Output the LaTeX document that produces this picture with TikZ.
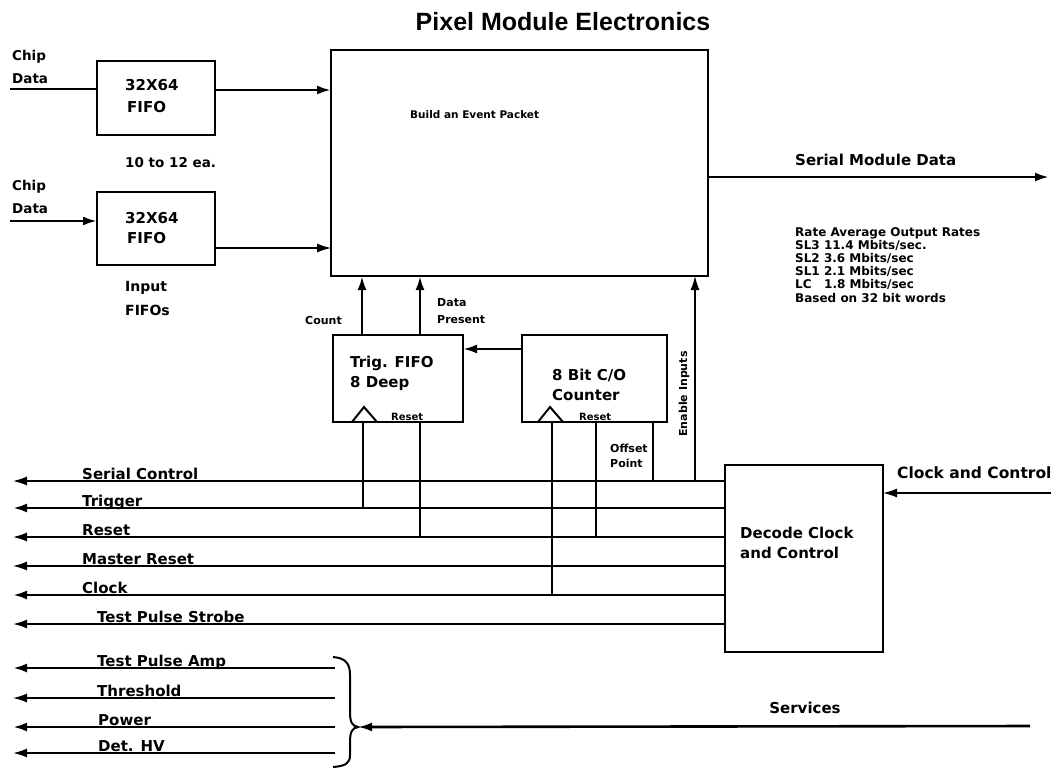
\documentclass[tikz,border=0pt]{standalone}
\usepackage{fontspec}
\setmainfont{DejaVu Sans}
\newfontfamily\titlefont{Liberation Sans}
\usetikzlibrary{arrows.meta}
\newcommand{\fsz}[1]{\fontsize{#1}{#1}\selectfont}
\begin{document}
\begin{tikzpicture}[x=1pt,y=-1pt,
  box/.style={draw, line width=2pt, inner sep=0pt, outer sep=0pt},
  txt/.style={inner sep=0pt, anchor=west, font=\bfseries\fsz{#1}},
  txt/.default=15,
  lab/.style={inner sep=0pt, anchor=base west, font=\bfseries\fsz{15}},
  thk/.style={line width=2.6pt},
  med/.style={line width=1.9pt},
  thn/.style={line width=1.4pt},
  arr/.style={-{Latex[length=14pt,width=9pt]}}
]
\useasboundingbox (0,0) rectangle (1051,769);

% title
\node[inner sep=0pt, font=\titlefont\bfseries\fsz{25}] (title) at (563,22) {Pixel Module Electronics};

% main box
\node[box, minimum width=377pt, minimum height=226pt] (main) at (519.5,163) {};
\node[txt=10.5] (mainT) at (410,115) {Build an Event Packet};

% FIFO 1
\node[box, minimum width=118pt, minimum height=74pt] (fifo1) at (156,98) {};
\node[txt] (f1a) at (125,85) {32X64};
\node[txt] (f1b) at (127,107) {FIFO};
\node[txt=13.5] (cd1a) at (12,57) {Chip};
\node[txt=13.5] (cd1b) at (12,79) {Data};
\coordinate (cd1) at (10,89);
\draw[thk] (cd1) -- (cd1 -| fifo1.west);
\coordinate (f1o) at (0,90);
\draw[thk,arr] (f1o -| fifo1.east) -- (f1o -| main.west);
\node[txt=13.5] (ea) at (125,163) {10 to 12 ea.};

% FIFO 2
\node[box, minimum width=118pt, minimum height=73pt] (fifo2) at (156,228.5) {};
\node[txt] (f2a) at (125,218) {32X64};
\node[txt] (f2b) at (127,238) {FIFO};
\node[txt=13.5] (cd2a) at (12,187) {Chip};
\node[txt=13.5] (cd2b) at (12,209) {Data};
\coordinate (cd2) at (10,221);
\draw[thk,arr] (cd2) -- (cd2 -| fifo2.west);
\coordinate (f2o) at (0,248);
\draw[thn,arr] (f2o -| fifo2.east) -- (f2o -| main.west);
\node[txt=14] (inA) at (125,288) {Input};
\node[txt=14] (inB) at (125,310) {FIFOs};

% Trig FIFO
\node[box, minimum width=130pt, minimum height=87pt] (trig) at (398,378.5) {};
\node[txt] (tA) at (350,363) {Trig. FIFO};
\node[txt] (tB) at (350,383) {8 Deep};
\draw[line width=2pt] (352,422) -- (364,407) -- (377,422);
\node[txt=10, anchor=base west] (trst) at (391,420) {Reset};

% Counter
\node[box, minimum width=145pt, minimum height=87pt] (ctr) at (594.5,378.5) {};
\node[txt] (cA) at (552,375) {8 Bit C/O};
\node[txt] (cB) at (552,395) {Counter};
\draw[line width=2pt] (538,422) -- (550,407) -- (563,422);
\node[txt=10, anchor=base west] (crst) at (579,420) {Reset};

% Count / Data Present
\coordinate (cnt) at (362,0);
\draw[thk,arr] (cnt |- trig.north) -- (cnt |- main.south);
\coordinate (dp) at (420,0);
\draw[thk,arr] (dp |- trig.north) -- (dp |- main.south);
\node[txt=11] (countT) at (305,320) {Count};
\node[txt=11] (dpA) at (437,303) {Data};
\node[txt=11] (dpB) at (437,320) {Present};

% counter -> trig
\coordinate (ct) at (0,349);
\draw[thk,arr] (ct -| ctr.west) -- (ct -| trig.east);

% Decode box
\node[box, minimum width=158pt, minimum height=187pt] (dec) at (804,558.5) {};
\node[txt] (dA) at (740,533) {Decode Clock};
\node[txt] (dB) at (740,553) {and Control};

% Clock and Control input
\coordinate (ccR) at (1051,493);
\draw[thn,arr] (ccR) -- (ccR -| dec.east);
\node[txt=15.5] (ccT) at (897,473) {Clock and Control};

% Serial module data
\coordinate (smd) at (1049,177);
\draw[thk,arr] (smd -| main.east) -- (smd);
\node[txt] (smdT) at (795,160) {Serial Module Data};

% rate text
\node[inner sep=0pt, anchor=north west, align=left, font=\bfseries\fontsize{12}{13.2}\selectfont] (rate) at (795,227)
 {Rate Average Output Rates\\SL3 11.4 Mbits/sec.\\SL2 3.6 Mbits/sec\\SL1 2.1 Mbits/sec\\LC\ \ \ 1.8 Mbits/sec\\Based on 32 bit words};

% control lines
\coordinate (sc) at (13,481);
\coordinate (tr) at (13,508);
\coordinate (rs) at (13,537);
\coordinate (mr) at (13,566);
\coordinate (ck) at (13,595);
\coordinate (tps) at (13,624);
\draw[thn,arr] (dec.west |- sc) -- (sc);
\draw[thk,arr] (dec.west |- tr) -- (tr);
\draw[thn,arr] (dec.west |- rs) -- (rs);
\draw[thn,arr] (dec.west |- mr) -- (mr);
\draw[thk,arr] (dec.west |- ck) -- (ck);
\draw[med,arr] (dec.west |- tps) -- (tps);
\node[lab] (scT) at (82,479) {Serial Control};
\node[lab] (trT) at (82,506) {Trigger};
\node[lab] (rsT) at (82,535) {Reset};
\node[lab] (mrT) at (82,564) {Master Reset};
\node[lab] (ckT) at (82,593) {Clock};
\node[lab] (tpsT) at (97,622) {Test Pulse Strobe};

% vertical taps
\coordinate (v1) at (363,508);
\draw[med] (v1) -- (v1 |- trig.south);
\coordinate (v2) at (420,537);
\draw[med] (v2) -- (v2 |- trig.south);
\coordinate (v3) at (552,595);
\draw[med] (v3) -- (v3 |- ctr.south);
\coordinate (v4) at (596,537);
\draw[med] (v4) -- (v4 |- ctr.south);
\coordinate (v5) at (653,481);
\draw[med] (v5) -- (v5 |- ctr.south);
\coordinate (v6) at (695,481);
\draw[thn,arr] (v6) -- (v6 |- main.south);
\node[txt=11] (opA) at (610,448) {Offset};
\node[txt=11] (opB) at (610,463) {Point};
\node[inner sep=0pt, font=\bfseries\fsz{11}, rotate=90] (enT) at (684,394) {Enable Inputs};

% services lines
\coordinate (tpaL) at (13,668);
\coordinate (thL) at (13,698);
\coordinate (pwL) at (13,727);
\coordinate (hvL) at (13,753);
\coordinate (tpaR) at (335,668);
\coordinate (thR) at (335,698);
\coordinate (pwR) at (335,727);
\coordinate (hvR) at (335,753);
\draw[thk,arr] (tpaR) -- (tpaL);
\draw[thn,arr] (thR) -- (thL);
\draw[thk,arr] (pwR) -- (pwL);
\draw[med,arr] (hvR) -- (hvL);
\node[lab] (tpaT) at (97,666) {Test Pulse Amp};
\node[lab] (thT) at (97,696) {Threshold};
\node[lab] (pwT) at (98,725) {Power};
\node[lab] (hvT) at (98,751) {Det. HV};

% brace
\coordinate (apex) at (358,727);
\draw[line width=2pt] (333,657) .. controls (346,658) and (350,664) .. (350,675) -- (350,712) .. controls (350,722) and (352,726) .. (apex) .. controls (352,728) and (350,732) .. (350,742) -- (350,755) .. controls (350,763) and (346,766) .. (333,767);

% services
\coordinate (svR) at (1030,726);
\draw[thk,arr] (svR) -- (apex);
\node[inner sep=0pt, font=\bfseries\fsz{15}] (svT) at (805,708) {Services};
\end{tikzpicture}
\end{document}
